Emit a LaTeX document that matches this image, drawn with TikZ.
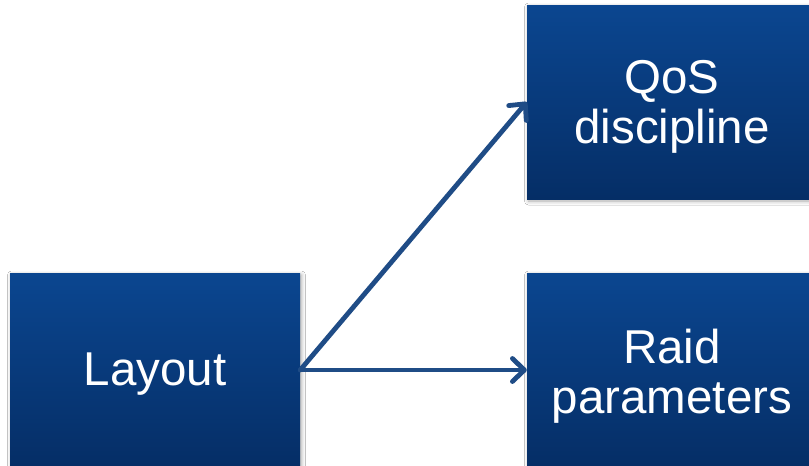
\documentclass[tikz,border=0pt]{standalone}
\usepackage{fontspec}
\setmainfont{Liberation Sans}
\usetikzlibrary{arrows.meta,shadows.blur}
\definecolor{boxtop}{HTML}{0B4690}
\definecolor{boxbottom}{HTML}{052E66}
\definecolor{linkblue}{HTML}{1F4C86}
\tikzset{
  block/.style={rectangle, minimum width=290pt, minimum height=194pt,
    inner sep=0pt, top color=boxtop, bottom color=boxbottom,
    blur shadow={shadow xshift=1.5pt, shadow yshift=-2pt,
      shadow blur radius=4pt, shadow opacity=35}},
  blocktext/.style={text=white, align=center, inner sep=0pt,
    font=\fontsize{47.5pt}{50pt}\selectfont},
  link/.style={draw=linkblue, line width=4.8pt, line cap=round,
    -{Straight Barb[length=12pt,width=23pt,round]}}
}
\begin{document}
\begin{tikzpicture}[x=1pt,y=-1pt]
  \useasboundingbox (0,0) rectangle (809,466);
  \clip (0,0) rectangle (809,466);
  \fill[white] (0,0) rectangle (809,466);
  % boxes
  \node[block] (layout) at (155,370) {};
  \node[block] (qos) at (672,102) {};
  \node[block] (raid) at (672,370) {};
  % box captions
  \node[blocktext] (layoutlabel) at ([yshift=-4pt]layout.center) {Layout};
  \node[blocktext] (qoslabel) at ([yshift=-5pt]qos.center) {QoS\\discipline};
  \node[blocktext] (raidlabel) at ([yshift=-6pt]raid.center) {Raid\\parameters};
  % connectors
  \draw[link] (layout.east) -- (qos.west);
  \draw[link] (layout.east) -- (raid.west);
\end{tikzpicture}
\end{document}
